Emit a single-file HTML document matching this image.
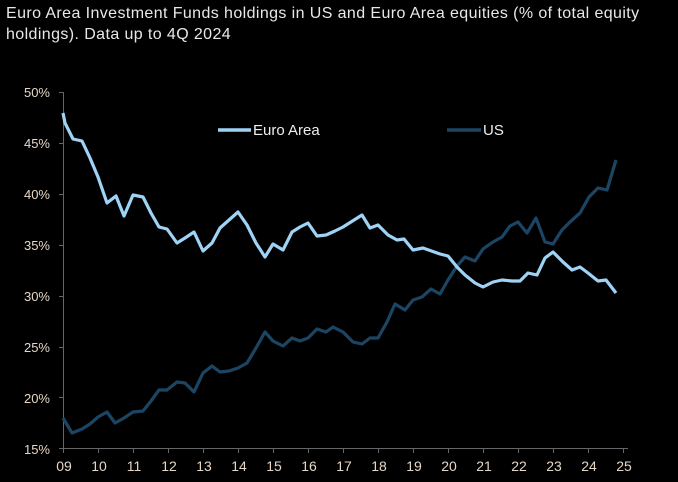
<!DOCTYPE html>
<html><head><meta charset="utf-8"><style>
html,body{margin:0;padding:0;background:#000;}
body{width:678px;height:482px;overflow:hidden;font-family:"Liberation Sans",sans-serif;}
.t{position:absolute;left:6px;top:3px;color:#e8e8e8;font-size:16px;line-height:21px;letter-spacing:0.4px;}
</style></head><body>
<div class="t">Euro Area Investment Funds holdings in US and Euro Area equities (% of total equity<br>holdings). Data up to 4Q 2024</div>
<svg width="678" height="482" style="position:absolute;left:0;top:0">
<g font-family="Liberation Sans, sans-serif" font-size="13" fill="#e6d6c6" text-anchor="end">
<text x="50" y="97">50%</text><text x="50" y="148">45%</text><text x="50" y="199">40%</text>
<text x="50" y="250">35%</text><text x="50" y="301">30%</text><text x="50" y="352">25%</text>
<text x="50" y="403">20%</text><text x="50" y="454">15%</text>
</g>
<g stroke="#666" stroke-width="1" fill="none">
<line x1="63.5" y1="92" x2="63.5" y2="448"/>
<line x1="63" y1="448.5" x2="628" y2="448.5"/>
<path d="M59 92.5h4M59 143.5h4M59 194.5h4M59 245.5h4M59 296.5h4M59 347.5h4M59 397.5h4M59 448.5h4"/>
<path d="M63.5 448v5M98.5 448v5M133.5 448v5M168.5 448v5M203.5 448v5M238.5 448v5M273.5 448v5M308.5 448v5M343.5 448v5M378.5 448v5M413.5 448v5M448.5 448v5M483.5 448v5M518.5 448v5M553.5 448v5M588.5 448v5M623.5 448v5"/>
</g>
<g font-family="Liberation Sans, sans-serif" font-size="14" fill="#e6d6c6" text-anchor="middle">
<text x="64" y="471">09</text><text x="99" y="471">10</text><text x="134" y="471">11</text><text x="169" y="471">12</text>
<text x="204" y="471">13</text><text x="239" y="471">14</text><text x="274" y="471">15</text><text x="309" y="471">16</text>
<text x="344" y="471">17</text><text x="379" y="471">18</text><text x="414" y="471">19</text><text x="449" y="471">20</text>
<text x="484" y="471">21</text><text x="519" y="471">22</text><text x="554" y="471">23</text><text x="589" y="471">24</text>
<text x="624" y="471">25</text>
</g>
<line x1="218" y1="130" x2="251" y2="130" stroke="#9fd3f5" stroke-width="3.5"/>
<text x="253" y="135" font-family="Liberation Sans, sans-serif" font-size="15" fill="#eee">Euro Area</text>
<line x1="447" y1="130" x2="481" y2="130" stroke="#1c4563" stroke-width="3.5"/>
<text x="483" y="135" font-family="Liberation Sans, sans-serif" font-size="15" fill="#eee">US</text>
<polyline fill="none" stroke="#1c4563" stroke-width="3.2" stroke-linejoin="round" points="63,418 72,433 82,429 90,424 98,417 107,412 115,423 124,418 133,412 143,411 151,401 159,390 167,390 177,382 185,383 194,392 203,373 212,366 220,372 229,371 238,368 247,363 256,348 265,332 273,341 283,346 292,338 300,341 308,338 317,329 326,332 333,327 343,332 353,342 362,344 370,338 378,338 387,322 395,304 405,310 413,300 422,297 431,289 440,294 448,280 457,266 465,257 475,261 483,249 493,242 502,237 510,226 518,222 527,233 536,218 545,242 553,244 562,230 570,222 580,213 589,197 598,188 607,190 616,160"/>
<polyline fill="none" stroke="#9fd3f5" stroke-width="3.2" stroke-linejoin="round" points="63,113 65,123 73,139 82,141 90,158 98,177 107,203 116,196 124,216 133,195 143,197 151,213 159,227 167,229 177,243 185,238 194,232 203,251 212,243 220,228 229,220 238,212 247,225 256,243 265,257 273,244 283,250 292,232 300,227 308,223 317,236 326,235 335,231 343,227 362,215 370,228 378,225 388,235 397,240 404,239 413,250 423,248 440,254 448,256 457,267 465,275 475,283 483,287 493,282 502,280 512,281 520,281 528,273 537,275 545,258 553,252 563,262 572,270 580,267 588,273 598,281 606,280 616,293"/>
</svg>
</body></html>
